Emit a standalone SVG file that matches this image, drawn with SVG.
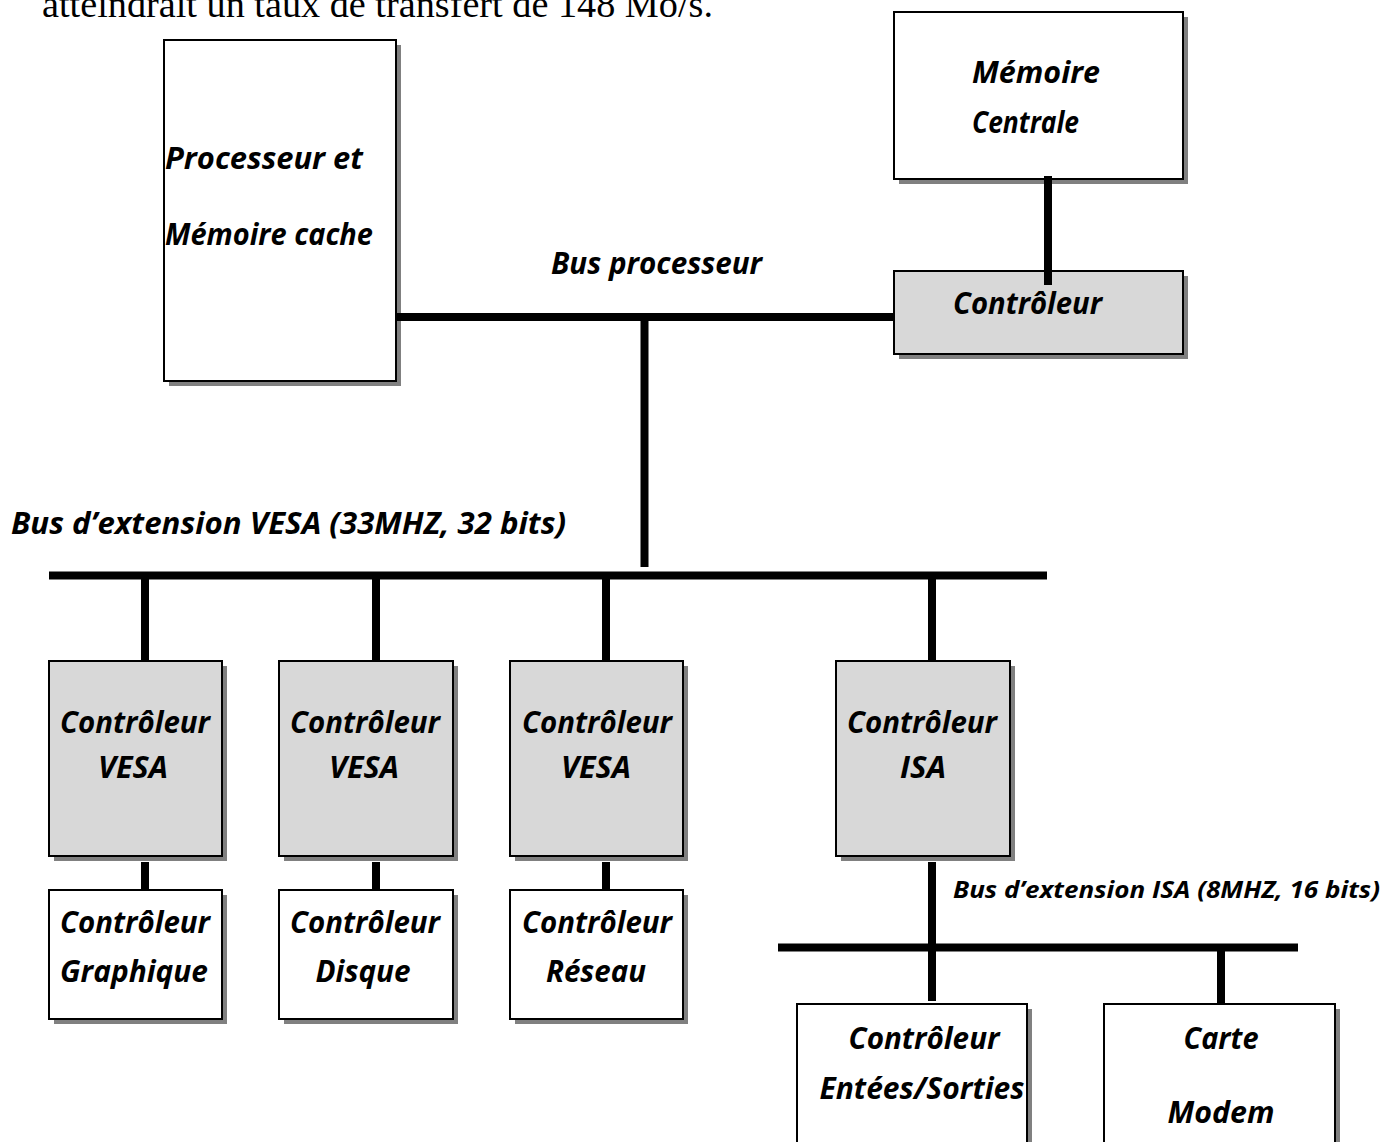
<svg xmlns="http://www.w3.org/2000/svg" width="1397" height="1142" viewBox="0 0 1397 1142">
  <style>
    .shadow { fill: #808080; }
    .box { stroke: #000; stroke-width: 2; }
    .plain { fill: #fff; }
    .grey { fill: #d8d8d8; }
    .lbl { font-family: "Open Sans", Lato, sans-serif; font-weight: bold; font-style: italic; font-size: 29.5px; fill: #000; }
    .small { font-size: 24px; }
    .mid { text-anchor: middle; }
    .bus { stroke: #000; stroke-width: 8; fill: none; }
    .body { font-family: "Liberation Serif", "Times New Roman", serif; font-size: 37px; fill: #000; }
  </style>

  <rect width="1397" height="1142" fill="#fff"/>

  <!-- running text above the figure -->
  <text class="body" x="42" y="17" textLength="671" lengthAdjust="spacingAndGlyphs">atteindrait un taux de transfert de 148 Mo/s.</text>

  <g id="nodes">
    <g id="processeur">
      <rect class="shadow" x="169" y="45" width="232" height="341"/>
      <rect class="box plain" x="164" y="40" width="232" height="341"/>
      <text class="lbl" x="165" y="169" textLength="198" lengthAdjust="spacingAndGlyphs">Processeur  et</text>
      <text class="lbl" x="165" y="245" textLength="208" lengthAdjust="spacingAndGlyphs">Mémoire cache</text>
    </g>
    <g id="memoire-centrale">
      <rect class="shadow" x="899" y="17" width="289" height="167"/>
      <rect class="box plain" x="894" y="12" width="289" height="167"/>
      <text class="lbl" x="972" y="83" textLength="128" lengthAdjust="spacingAndGlyphs">Mémoire</text>
      <text class="lbl" x="972" y="133" textLength="107" lengthAdjust="spacingAndGlyphs">Centrale</text>
    </g>
    <g id="controleur-memoire">
      <rect class="shadow" x="899" y="276" width="289" height="83"/>
      <rect class="box grey" x="894" y="271" width="289" height="83"/>
      <text class="lbl" x="953" y="314" textLength="149" lengthAdjust="spacingAndGlyphs">Contrôleur</text>
    </g>

    <g id="controleur-vesa-1">
      <rect class="shadow" x="54" y="666" width="173" height="195"/>
      <rect class="box grey" x="49" y="661" width="173" height="195"/>
      <text class="lbl mid" x="135" y="733" textLength="150" lengthAdjust="spacingAndGlyphs">Contrôleur</text>
      <text class="lbl mid" x="133" y="778" textLength="70" lengthAdjust="spacingAndGlyphs">VESA</text>
    </g>
    <g id="controleur-vesa-2">
      <rect class="shadow" x="284" y="666" width="174" height="195"/>
      <rect class="box grey" x="279" y="661" width="174" height="195"/>
      <text class="lbl mid" x="365" y="733" textLength="150" lengthAdjust="spacingAndGlyphs">Contrôleur</text>
      <text class="lbl mid" x="364" y="778" textLength="70" lengthAdjust="spacingAndGlyphs">VESA</text>
    </g>
    <g id="controleur-vesa-3">
      <rect class="shadow" x="515" y="666" width="173" height="195"/>
      <rect class="box grey" x="510" y="661" width="173" height="195"/>
      <text class="lbl mid" x="597" y="733" textLength="150" lengthAdjust="spacingAndGlyphs">Contrôleur</text>
      <text class="lbl mid" x="596" y="778" textLength="70" lengthAdjust="spacingAndGlyphs">VESA</text>
    </g>
    <g id="controleur-isa">
      <rect class="shadow" x="841" y="666" width="174" height="195"/>
      <rect class="box grey" x="836" y="661" width="174" height="195"/>
      <text class="lbl mid" x="922" y="733" textLength="150" lengthAdjust="spacingAndGlyphs">Contrôleur</text>
      <text class="lbl mid" x="923" y="778" textLength="46" lengthAdjust="spacingAndGlyphs">ISA</text>
    </g>

    <g id="controleur-graphique">
      <rect class="shadow" x="54" y="895" width="173" height="129"/>
      <rect class="box plain" x="49" y="890" width="173" height="129"/>
      <text class="lbl mid" x="135" y="933" textLength="150" lengthAdjust="spacingAndGlyphs">Contrôleur</text>
      <text class="lbl mid" x="134" y="982" textLength="148" lengthAdjust="spacingAndGlyphs">Graphique</text>
    </g>
    <g id="controleur-disque">
      <rect class="shadow" x="284" y="895" width="174" height="129"/>
      <rect class="box plain" x="279" y="890" width="174" height="129"/>
      <text class="lbl mid" x="365" y="933" textLength="150" lengthAdjust="spacingAndGlyphs">Contrôleur</text>
      <text class="lbl mid" x="363" y="982" textLength="95" lengthAdjust="spacingAndGlyphs">Disque</text>
    </g>
    <g id="controleur-reseau">
      <rect class="shadow" x="515" y="895" width="173" height="129"/>
      <rect class="box plain" x="510" y="890" width="173" height="129"/>
      <text class="lbl mid" x="597" y="933" textLength="150" lengthAdjust="spacingAndGlyphs">Contrôleur</text>
      <text class="lbl mid" x="596" y="982" textLength="100" lengthAdjust="spacingAndGlyphs">Réseau</text>
    </g>

    <g id="controleur-es">
      <rect class="shadow" x="802" y="1009" width="230" height="160"/>
      <rect class="box plain" x="797" y="1004" width="230" height="160"/>
      <text class="lbl mid" x="924" y="1049" textLength="151" lengthAdjust="spacingAndGlyphs">Contrôleur</text>
      <text class="lbl mid" x="922" y="1099" textLength="205" lengthAdjust="spacingAndGlyphs">Entées/Sorties</text>
    </g>
    <g id="carte-modem">
      <rect class="shadow" x="1109" y="1009" width="231" height="160"/>
      <rect class="box plain" x="1104" y="1004" width="231" height="160"/>
      <text class="lbl mid" x="1221" y="1049" textLength="75" lengthAdjust="spacingAndGlyphs">Carte</text>
      <text class="lbl mid" x="1221" y="1123" textLength="107" lengthAdjust="spacingAndGlyphs">Modem</text>
    </g>
  </g>

  <g id="connectors">
    <!-- processor bus and its tap down to the VESA bus -->
    <path class="bus" d="M397 317 H894"/>
    <path class="bus" d="M644.5 321 V567"/>
    <!-- main memory to its controller -->
    <path class="bus" d="M1048 176 V285"/>
    <!-- VESA extension bus and drops -->
    <path class="bus" d="M49 575.5 H1047"/>
    <path class="bus" d="M145 579 V660 M376 579 V660 M606 579 V660 M932 579 V660"/>
    <path class="bus" d="M145 862 V890 M376 862 V890 M606 862 V890"/>
    <!-- ISA extension bus -->
    <path class="bus" d="M932 862 V1001"/>
    <path class="bus" d="M778 947.5 H1298"/>
    <path class="bus" d="M1221 951 V1003"/>
  </g>

  <g id="bus-labels">
    <text class="lbl" x="551" y="274" textLength="211" lengthAdjust="spacingAndGlyphs">Bus processeur</text>
    <text class="lbl" x="11" y="534" textLength="555" lengthAdjust="spacingAndGlyphs">Bus d’extension VESA (33MHZ, 32 bits)</text>
    <text class="lbl small" x="953" y="898" textLength="427" lengthAdjust="spacingAndGlyphs">Bus d’extension ISA (8MHZ, 16 bits)</text>
  </g>
</svg>
